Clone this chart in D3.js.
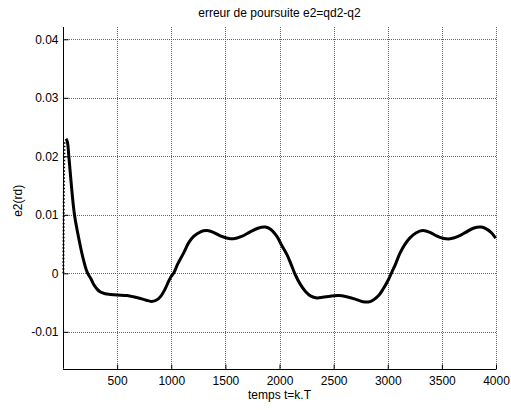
<!DOCTYPE html>
<html><head><meta charset="utf-8">
<script src="https://cdn.jsdelivr.net/npm/d3@7"></script>
<style>body{margin:0;background:#fff}svg{display:block}text{font-family:"Liberation Sans",Arial,sans-serif;fill:#000}</style>
</head><body>
<script>
const titleText = "erreur de poursuite e2=qd2-q2";
const xLabel = "temps t=k.T";
const yLabel = "e2(rd)";
const xTicks = [500,1000,1500,2000,2500,3000,3500,4000];
const yTicks = [-0.01,0,0.01,0.02,0.03,0.04];
const xDomain = [0,4000];
const yDomain = [-0.0163,0.0421];
// initial transient (sparse samples, appears dotted)
const transientT = [3,5,7,10,14];
const transientE = [0.0000,0.0060,0.0120,0.0180,0.0225];
// main error signal
const timeT = [28,40,54,80,106,140,180,223,260,284,315,346,390,438,500,592,650,715,770,814,860,900,940,970,1000,1022,1060,1115,1160,1207,1270,1330,1390,1453,1520,1576,1650,1730,1800,1870,1920,1976,2020,2069,2110,2145,2190,2240,2290,2345,2400,2470,2545,2620,2700,2760,2822,2870,2920,2960,3006,3040,3070,3114,3160,3207,3260,3323,3390,3450,3510,3575,3650,3720,3790,3861,3910,3960,3997];
const errE = [0.0230,0.0225,0.0200,0.0145,0.0100,0.0065,0.0030,0.0002,-0.0010,-0.0019,-0.0027,-0.0032,-0.0035,-0.0036,-0.0037,-0.0038,-0.0040,-0.0043,-0.0046,-0.0048,-0.0046,-0.0040,-0.0028,-0.0016,-0.0005,0.0000,0.0016,0.0035,0.0052,0.0063,0.0071,0.0073,0.0070,0.0064,0.0060,0.0059,0.0063,0.0071,0.0077,0.0079,0.0075,0.0063,0.0048,0.0032,0.0014,-0.0002,-0.0018,-0.0031,-0.0039,-0.0042,-0.0041,-0.0039,-0.0038,-0.0040,-0.0044,-0.0048,-0.0049,-0.0045,-0.0037,-0.0026,-0.0011,0.0003,0.0015,0.0035,0.0050,0.0061,0.0069,0.0073,0.0070,0.0064,0.0060,0.0059,0.0063,0.0070,0.0077,0.0079,0.0076,0.0069,0.0060];

const W=511,H=410;
const L=63,R=496,T=27,B=368.7;
const svg=d3.select("body").append("svg").attr("width",W).attr("height",H);
const x=d3.scaleLinear().domain(xDomain).range([L,R]);
const y=d3.scaleLinear().domain(yDomain).range([B,T]);

// grid
const g=svg.append("g");
g.selectAll("line.vx").data(xTicks).join("line")
 .attr("x1",d=>Math.round(x(d))+0.5).attr("x2",d=>Math.round(x(d))+0.5).attr("y1",T).attr("y2",B)
 .attr("stroke","#666").attr("stroke-width",1).attr("stroke-dasharray","1,1");
g.selectAll("line.hy").data(yTicks).join("line")
 .attr("y1",d=>Math.round(y(d))+0.5).attr("y2",d=>Math.round(y(d))+0.5).attr("x1",L).attr("x2",R)
 .attr("stroke","#666").attr("stroke-width",1).attr("stroke-dasharray","1,1");

// axes
const xa=svg.append("g").attr("transform",`translate(0,${Math.round(B)+0.5})`)
 .call(d3.axisBottom(x).tickValues(xTicks).tickSizeInner(-5).tickSizeOuter(0).tickPadding(7).tickFormat(d3.format("d")));
const ya=svg.append("g").attr("transform",`translate(${L+0.5},0)`)
 .call(d3.axisLeft(y).tickValues(yTicks).tickSizeInner(-5).tickSizeOuter(0).tickPadding(5).tickFormat(d=>d===0?"0":String(+d.toFixed(2))));
[xa,ya].forEach(a=>{
  a.select(".domain").attr("stroke","#000").attr("stroke-width",1);
  a.selectAll(".tick line").attr("stroke","#000");
  a.selectAll(".tick text").attr("font-size",12).attr("font-family","Liberation Sans, Arial, sans-serif").attr("fill","#000");
});
ya.select(".domain").attr("d",`M0,${B}V${T}`);
xa.select(".domain").attr("d",`M${L},0H${R}`);

// data
const tr=transientT.map((t,i)=>[t,transientE[i]]);
svg.append("path").datum(tr)
 .attr("d",d3.line().x(d=>x(d[0])).y(d=>y(d[1])))
 .attr("fill","none").attr("stroke","#000").attr("stroke-width",2).attr("stroke-dasharray","1.5,2");
const pts=timeT.map((t,i)=>[t,errE[i]]);
svg.append("path").datum(pts)
 .attr("d",d3.line().x(d=>x(d[0])).y(d=>y(d[1])).curve(d3.curveCatmullRom.alpha(0.5)))
 .attr("fill","none").attr("stroke","#000").attr("stroke-width",3).attr("stroke-linejoin","round");

// texts
svg.append("text").attr("x",(L+R)/2).attr("y",17).attr("text-anchor","middle").attr("font-size",12).text(titleText);
svg.append("text").attr("x",(L+R)/2).attr("y",399).attr("text-anchor","middle").attr("font-size",12).text(xLabel);
svg.append("text").attr("transform",`translate(22,${(T+B)/2+3}) rotate(-90)`).attr("text-anchor","middle").attr("font-size",12).text(yLabel);
</script>
</body></html>
